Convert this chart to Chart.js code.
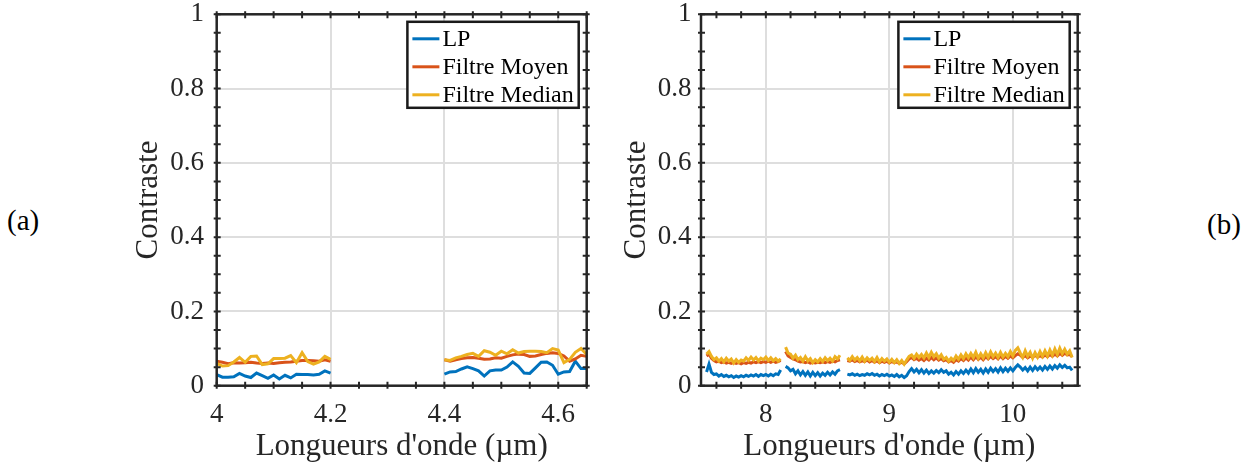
<!DOCTYPE html>
<html>
<head>
<meta charset="utf-8">
<script src="https://cdn.jsdelivr.net/npm/chart.js@4.4.0/dist/chart.umd.min.js"></script>
<style>
body { margin: 0; background: #fff; width: 1258px; height: 470px; position: relative; overflow: hidden; font-family: "Liberation Serif", "Times New Roman", serif; }
canvas { position: absolute; top: 0; }
#chartA { left: 100px; }
#chartB { left: 620px; }
.tag { position: absolute; font-size: 29px; line-height: 1; color: #000; }
</style>
</head>
<body>
<canvas id="chartA" width="520" height="470"></canvas>
<canvas id="chartB" width="500" height="470"></canvas>
<div class="tag" style="left:7px;top:206px">(a)</div>
<div class="tag" style="left:1207px;top:210px">(b)</div>
<script>
// tick labels
const xTicksA = [4, 4.2, 4.4, 4.6];
const xTicksB = [8, 9, 10];
const yTicks = [0, 0.2, 0.4, 0.6, 0.8, 1];

const seriesNames = ['LP', 'Filtre Moyen', 'Filtre Median'];
const seriesColors = ['#0072BD', '#D95319', '#EDB120'];

// (a) : two spectral bands, sampled every 0.01 um
const startsA = [4.00, 4.40];
const stepA = 0.01;
const lpA = [
  [0.030, 0.023, 0.023, 0.024, 0.033, 0.026, 0.022, 0.034, 0.027, 0.020, 0.029, 0.018, 0.028, 0.021, 0.031, 0.030, 0.030, 0.029, 0.031, 0.040, 0.034],
  [0.031, 0.037, 0.038, 0.045, 0.051, 0.046, 0.040, 0.026, 0.040, 0.042, 0.042, 0.050, 0.064, 0.052, 0.034, 0.033, 0.048, 0.063, 0.064, 0.055, 0.031, 0.037, 0.038, 0.066, 0.046, 0.046]
];
const moyenA = [
  [0.066, 0.063, 0.059, 0.062, 0.061, 0.062, 0.063, 0.061, 0.060, 0.061, 0.060, 0.062, 0.063, 0.064, 0.066, 0.068, 0.068, 0.067, 0.066, 0.070, 0.066],
  [0.070, 0.066, 0.070, 0.073, 0.075, 0.076, 0.074, 0.071, 0.072, 0.075, 0.074, 0.079, 0.083, 0.085, 0.084, 0.079, 0.080, 0.084, 0.087, 0.089, 0.087, 0.080, 0.066, 0.072, 0.082, 0.079]
];
const medianA = [
  [0.060, 0.053, 0.054, 0.064, 0.076, 0.063, 0.079, 0.080, 0.057, 0.059, 0.073, 0.073, 0.074, 0.081, 0.062, 0.089, 0.065, 0.058, 0.064, 0.079, 0.071],
  [0.070, 0.068, 0.075, 0.079, 0.084, 0.087, 0.079, 0.094, 0.090, 0.082, 0.093, 0.086, 0.097, 0.088, 0.092, 0.093, 0.093, 0.092, 0.089, 0.100, 0.096, 0.062, 0.071, 0.090, 0.100, 0.084]
];

// (b) : three bands, sampled every 0.02 um
const startsB = [7.52, 8.16, 8.66];
const stepB = 0.02;
const lpB = [
  [0.037, 0.058, 0.036, 0.030, 0.032, 0.026, 0.030, 0.025, 0.028, 0.024, 0.027, 0.022, 0.026, 0.023, 0.027, 0.024, 0.028, 0.025, 0.029, 0.026, 0.030, 0.025, 0.030, 0.027, 0.030, 0.026, 0.031, 0.027, 0.032, 0.030, 0.042],
  [0.052, 0.048, 0.040, 0.044, 0.032, 0.040, 0.029, 0.038, 0.028, 0.037, 0.026, 0.036, 0.027, 0.035, 0.026, 0.034, 0.028, 0.036, 0.029, 0.037, 0.031, 0.040, 0.043],
  [0.031, 0.029, 0.032, 0.028, 0.031, 0.027, 0.030, 0.028, 0.032, 0.029,
   0.033, 0.028, 0.031, 0.026, 0.030, 0.027, 0.031, 0.026, 0.029, 0.025,
   0.030, 0.024, 0.028, 0.022, 0.027, 0.038, 0.046, 0.037, 0.044, 0.035,
   0.043, 0.034, 0.042, 0.033, 0.040, 0.034, 0.041, 0.035, 0.043, 0.036,
   0.040, 0.031, 0.036, 0.029, 0.038, 0.031, 0.040, 0.033, 0.042, 0.034,
   0.045, 0.035, 0.046, 0.036, 0.044, 0.034, 0.045, 0.036, 0.047, 0.038,
   0.046, 0.037, 0.048, 0.038, 0.047, 0.039, 0.048, 0.040, 0.049, 0.056,
   0.050, 0.042, 0.049, 0.040, 0.050, 0.041, 0.051, 0.043, 0.050, 0.042,
   0.052, 0.044, 0.053, 0.045, 0.054, 0.047, 0.056, 0.049, 0.055, 0.048,
   0.050, 0.041]
];
const moyenB = [
  [0.080, 0.085, 0.074, 0.068, 0.064, 0.066, 0.062, 0.064, 0.061, 0.063, 0.060, 0.063, 0.060, 0.062, 0.059, 0.062, 0.060, 0.063, 0.061, 0.064, 0.062, 0.065, 0.062, 0.065, 0.063, 0.066, 0.063, 0.066, 0.063, 0.065, 0.068],
  [0.092, 0.080, 0.076, 0.072, 0.070, 0.066, 0.064, 0.065, 0.062, 0.064, 0.061, 0.063, 0.061, 0.063, 0.062, 0.064, 0.062, 0.065, 0.063, 0.066, 0.064, 0.068, 0.070],
  [0.068, 0.066, 0.070, 0.065, 0.068, 0.064, 0.067, 0.065, 0.069, 0.064,
   0.068, 0.063, 0.067, 0.062, 0.066, 0.063, 0.066, 0.061, 0.065, 0.062,
   0.064, 0.060, 0.063, 0.059, 0.065, 0.072, 0.076, 0.070, 0.074, 0.069,
   0.073, 0.068, 0.074, 0.069, 0.076, 0.070, 0.075, 0.069, 0.073, 0.067,
   0.070, 0.064, 0.068, 0.063, 0.070, 0.066, 0.073, 0.068, 0.075, 0.069,
   0.077, 0.070, 0.078, 0.071, 0.077, 0.070, 0.078, 0.072, 0.079, 0.073,
   0.078, 0.072, 0.080, 0.073, 0.079, 0.074, 0.080, 0.075, 0.081, 0.086,
   0.082, 0.076, 0.081, 0.075, 0.080, 0.076, 0.082, 0.077, 0.081, 0.077,
   0.083, 0.078, 0.084, 0.079, 0.085, 0.080, 0.087, 0.082, 0.088, 0.083,
   0.084, 0.078]
];
const medianB = [
  [0.085, 0.092, 0.079, 0.070, 0.075, 0.066, 0.073, 0.064, 0.074, 0.066, 0.072, 0.061, 0.070, 0.063, 0.069, 0.066, 0.075, 0.068, 0.077, 0.069, 0.076, 0.067, 0.074, 0.070, 0.077, 0.068, 0.075, 0.067, 0.073, 0.066, 0.072],
  [0.104, 0.088, 0.085, 0.074, 0.082, 0.070, 0.076, 0.066, 0.078, 0.067, 0.073, 0.062, 0.070, 0.064, 0.073, 0.065, 0.075, 0.067, 0.074, 0.066, 0.078, 0.072, 0.082],
  [0.075, 0.068, 0.078, 0.069, 0.076, 0.067, 0.077, 0.066, 0.075, 0.068,
   0.074, 0.065, 0.076, 0.064, 0.073, 0.066, 0.072, 0.063, 0.071, 0.062,
   0.070, 0.060, 0.068, 0.058, 0.069, 0.079, 0.083, 0.074, 0.085, 0.076,
   0.084, 0.075, 0.088, 0.076, 0.090, 0.078, 0.086, 0.074, 0.083, 0.071,
   0.076, 0.066, 0.074, 0.068, 0.080, 0.071, 0.083, 0.073, 0.086, 0.075,
   0.087, 0.076, 0.090, 0.074, 0.086, 0.075, 0.089, 0.076, 0.091, 0.078,
   0.088, 0.076, 0.090, 0.077, 0.087, 0.078, 0.092, 0.080, 0.095, 0.102,
   0.088, 0.076, 0.094, 0.079, 0.090, 0.074, 0.089, 0.077, 0.092, 0.079,
   0.094, 0.080, 0.096, 0.082, 0.099, 0.084, 0.101, 0.086, 0.098, 0.085,
   0.094, 0.076]
];

const ink = '#262626';
Chart.defaults.font.family = '"Liberation Serif", "Times New Roman", serif';
Chart.defaults.color = ink;

// segments -> {x,y} points, with a null between bands so the line breaks
function toPoints(starts, step, segs) {
  var pts = [];
  segs.forEach(function (seg, s) {
    if (s > 0) pts.push({ x: starts[s] - step / 2, y: null });
    seg.forEach(function (v, i) {
      pts.push({ x: +(starts[s] + i * step).toFixed(3), y: v });
    });
  });
  return pts;
}

// matlab style box: ticks on all 4 sides + legend in the top right corner
const matlabBox = {
  id: 'matlabBox',
  afterDraw(chart, args, opts) {
    const { ctx, chartArea: a, scales: { x, y } } = chart;
    const tin = 4, tout = 3;
    ctx.save();
    ctx.strokeStyle = ink;
    ctx.lineWidth = 2;
    ctx.beginPath();
    for (let i = Math.ceil(x.min / opts.xMinor - 1e-6); i * opts.xMinor <= x.max + 1e-6; i++) {
      const px = x.getPixelForValue(i * opts.xMinor);
      ctx.moveTo(px, a.bottom + tout); ctx.lineTo(px, a.bottom - tin);
      ctx.moveTo(px, a.top - tout); ctx.lineTo(px, a.top + tin);
    }
    for (let i = Math.ceil(y.min / opts.yMinor - 1e-6); i * opts.yMinor <= y.max + 1e-6; i++) {
      const py = y.getPixelForValue(i * opts.yMinor);
      ctx.moveTo(a.left - tout, py); ctx.lineTo(a.left + tin, py);
      ctx.moveTo(a.right + tout, py); ctx.lineTo(a.right - tin, py);
    }
    ctx.stroke();
    ctx.lineWidth = 2.5;
    ctx.strokeRect(a.left, a.top, a.right - a.left, a.bottom - a.top);

    // legend
    ctx.font = '24px "Liberation Serif", "Times New Roman", serif';
    const sets = chart.data.datasets;
    let tw = 0;
    sets.forEach(function (d) { tw = Math.max(tw, ctx.measureText(d.label).width); });
    const w = 35 + tw + 5, h = 86;
    const lx = a.right - 8 - w, ly = a.top + 7.5;
    ctx.fillStyle = '#fff';
    ctx.fillRect(lx, ly, w, h);
    ctx.strokeStyle = '#1a1a1a';
    ctx.lineWidth = 2.5;
    ctx.strokeRect(lx, ly, w, h);
    ctx.textBaseline = 'middle';
    ctx.textAlign = 'left';
    sets.forEach(function (d, i) {
      const ry = ly + 17 + i * 28;
      ctx.strokeStyle = d.borderColor;
      ctx.lineWidth = 3;
      ctx.beginPath();
      ctx.moveTo(lx + 5, ry); ctx.lineTo(lx + 32, ry);
      ctx.stroke();
      ctx.fillStyle = '#000';
      ctx.fillText(d.label, lx + 35, ry + 1);
    });
    ctx.restore();
  }
};

function makeChart(id, cfg) {
  const series = [cfg.lp, cfg.moyen, cfg.median];
  return new Chart(document.getElementById(id), {
    type: 'line',
    data: {
      datasets: series.map(function (segs, k) {
        return {
          label: seriesNames[k],
          data: toPoints(cfg.starts, cfg.step, segs),
          borderColor: seriesColors[k],
          borderWidth: 3,
          pointRadius: 0,
          tension: 0,
          spanGaps: false,
          order: 2 - k
        };
      })
    },
    options: {
      responsive: false,
      animation: false,
      events: [],
      layout: { padding: { top: 14.3, right: cfg.padRight, bottom: 0, left: 0 } },
      plugins: {
        legend: { display: false },
        tooltip: { enabled: false },
        matlabBox: { xMinor: cfg.xMinor, yMinor: 0.05 }
      },
      scales: {
        x: {
          type: 'linear',
          min: cfg.xMin,
          max: cfg.xMax,
          afterBuildTicks: function (ax) { ax.ticks = cfg.xTicks.map(function (v) { return { value: v }; }); },
          afterFit: function (ax) { ax.height = 84.3; ax.paddingLeft = 0; ax.paddingRight = 0; },
          grid: { color: '#dedede', lineWidth: 2, drawTicks: false },
          border: { display: false },
          ticks: { padding: 16, autoSkip: false, maxRotation: 0, font: { size: 27, lineHeight: 1 }, callback: function (v) { return String(v); } },
          title: { display: true, text: "Longueurs d'onde (\u00b5m)", font: { size: 31, lineHeight: 1 }, padding: { top: 0, bottom: 8 } }
        },
        y: {
          min: 0,
          max: 1,
          afterBuildTicks: function (ax) { ax.ticks = yTicks.map(function (v) { return { value: v }; }); },
          afterFit: function (ax) { ax.width = cfg.yWidth; ax.paddingTop = 0; ax.paddingBottom = 0; },
          grid: { color: '#dedede', lineWidth: 2, drawTicks: false },
          border: { display: false },
          ticks: { padding: cfg.yPad, font: { size: 27, lineHeight: 1 }, callback: function (v) { return String(v); } },
          title: { display: true, text: 'Contraste', font: { size: 31, lineHeight: 1 }, padding: { top: cfg.titlePad, bottom: 0 } }
        }
      }
    },
    plugins: [matlabBox]
  });
}

makeChart('chartA', {
  starts: startsA, step: stepA, lp: lpA, moyen: moyenA, median: medianA,
  xMin: 4, xMax: 4.65, xTicks: xTicksA, xMinor: 0.05,
  yWidth: 116.7, yPad: 12.7, titlePad: 33.5, padRight: 33.3
});

makeChart('chartB', {
  starts: startsB, step: stepB, lp: lpB, moyen: moyenB, median: medianB,
  xMin: 7.475, xMax: 10.525, xTicks: xTicksB, xMinor: 0.2,
  yWidth: 81, yPad: 9.5, titlePad: 1.2, padRight: 42.3
});
</script>
</body>
</html>
